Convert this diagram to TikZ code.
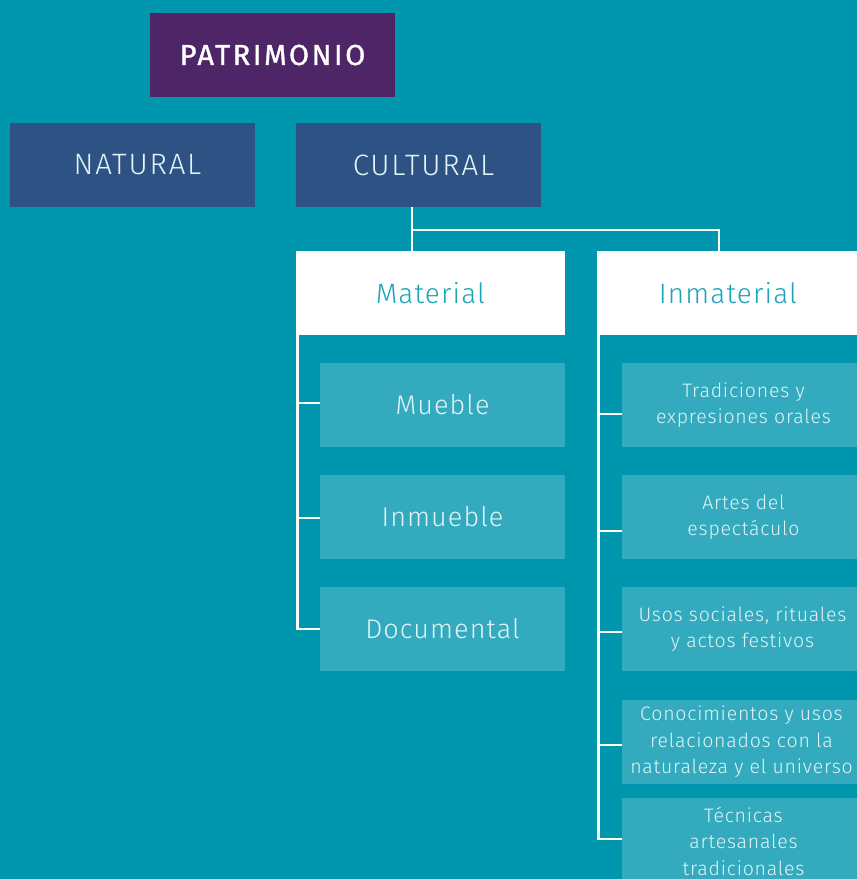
\documentclass[tikz,border=0pt]{standalone}
\usepackage{fontspec}
\setmainfont{Fira Sans Light}[LetterSpace=4]
\newfontfamily\capsf{Fira Sans Light}[LetterSpace=6]
\newfontfamily\boldf{Fira Sans}[LetterSpace=9,FakeBold=1.2]
\definecolor{bg}{HTML}{0097AE}
\definecolor{purp}{HTML}{4E2566}
\definecolor{navy}{HTML}{2E5283}
\definecolor{subbox}{HTML}{33AABD}
\definecolor{subtext}{HTML}{E3F4F7}
\definecolor{mattext}{HTML}{1BA3B8}
\begin{document}
\begin{tikzpicture}[x=1pt,y=-1pt,
  box/.style={rectangle,inner sep=0pt,minimum width=245pt,minimum height=84pt,align=center},
  topbox/.style={box,fill=purp,text=white,font=\boldf\fontsize{29}{30}\selectfont},
  catbox/.style={box,fill=navy,text=subtext,font=\capsf\fontsize{29.5}{30}\selectfont},
  whitebox/.style={box,fill=white,text=mattext,font=\fontsize{28}{30}\selectfont},
  subbig/.style={box,fill=subbox,text=subtext,font=\fontsize{27}{30}\selectfont},
  subsmall/.style={box,minimum width=235pt,fill=subbox,text=subtext,font=\fontsize{19.5}{26.5}\selectfont},
  conn/.style={draw=white,line width=2.2pt}]
\fill[bg] (0,0) rectangle (857,879);
\useasboundingbox (0,0) rectangle (857,879);
\node[topbox] (pat) at (272.5,55) {PATRIMONIO};
\node[catbox] (nat) at (132.5,165) {\hspace*{10pt}NATURAL};
\node[catbox] (cul) at (418.5,165) {\hspace*{10pt}CULTURAL};
\node[whitebox,minimum width=269pt] (mat) at (430.5,293) {Material};
\node[whitebox,minimum width=262pt] (inm) at (728,293) {Inmaterial};
\node[subbig] (mue) at (442.5,405) {Mueble};
\node[subbig] (inmu) at (442.5,517) {Inmueble};
\node[subbig] (doc) at (442.5,629) {Documental};
\node[subsmall] (t1) at (739.5,405) {\hspace*{8pt}Tradiciones y\\\hspace*{8pt}expresiones orales};
\node[subsmall] (t2) at (739.5,517) {\hspace*{8pt}Artes del\\\hspace*{8pt}espectáculo};
\node[subsmall] (t3) at (739.5,629) {\hspace*{6pt}Usos sociales, rituales\\\hspace*{6pt}y actos festivos};
\node[subsmall] (t4) at (739.5,742) {\hspace*{4pt}Conocimientos y usos\\\hspace*{4pt}relacionados con la\\\hspace*{4pt}naturaleza y el universo};
\node[subsmall,minimum height=86pt] (t5) at (739.5,841) {\hspace*{8pt}Técnicas\\\hspace*{8pt}artesanales\\\hspace*{8pt}tradicionales};
% connectors from CULTURAL
\coordinate (cj) at (412,230);
\draw[conn] (cul.south -| cj) -- (mat.north -| cj);
\draw[conn] (cj) -| (inm.north -| 719,0);
% material branch
\coordinate (ml) at (297.5,0);
\draw[conn] (mat.south -| ml) -- (297.5,629) -- (doc.west |- 0,629);
\draw[conn] (297.5,403) -- (mue.west |- 0,403);
\draw[conn] (297.5,518) -- (inmu.west |- 0,518);
% inmaterial branch
\draw[conn] (inm.south -| 598.5,0) -- (598.5,839) -- (t5.west |- 0,839);
\draw[conn] (598.5,414) -- (t1.west |- 0,414);
\draw[conn] (598.5,531) -- (t2.west |- 0,531);
\draw[conn] (598.5,632) -- (t3.west |- 0,632);
\draw[conn] (598.5,745) -- (t4.west |- 0,745);
\end{tikzpicture}
\end{document}
